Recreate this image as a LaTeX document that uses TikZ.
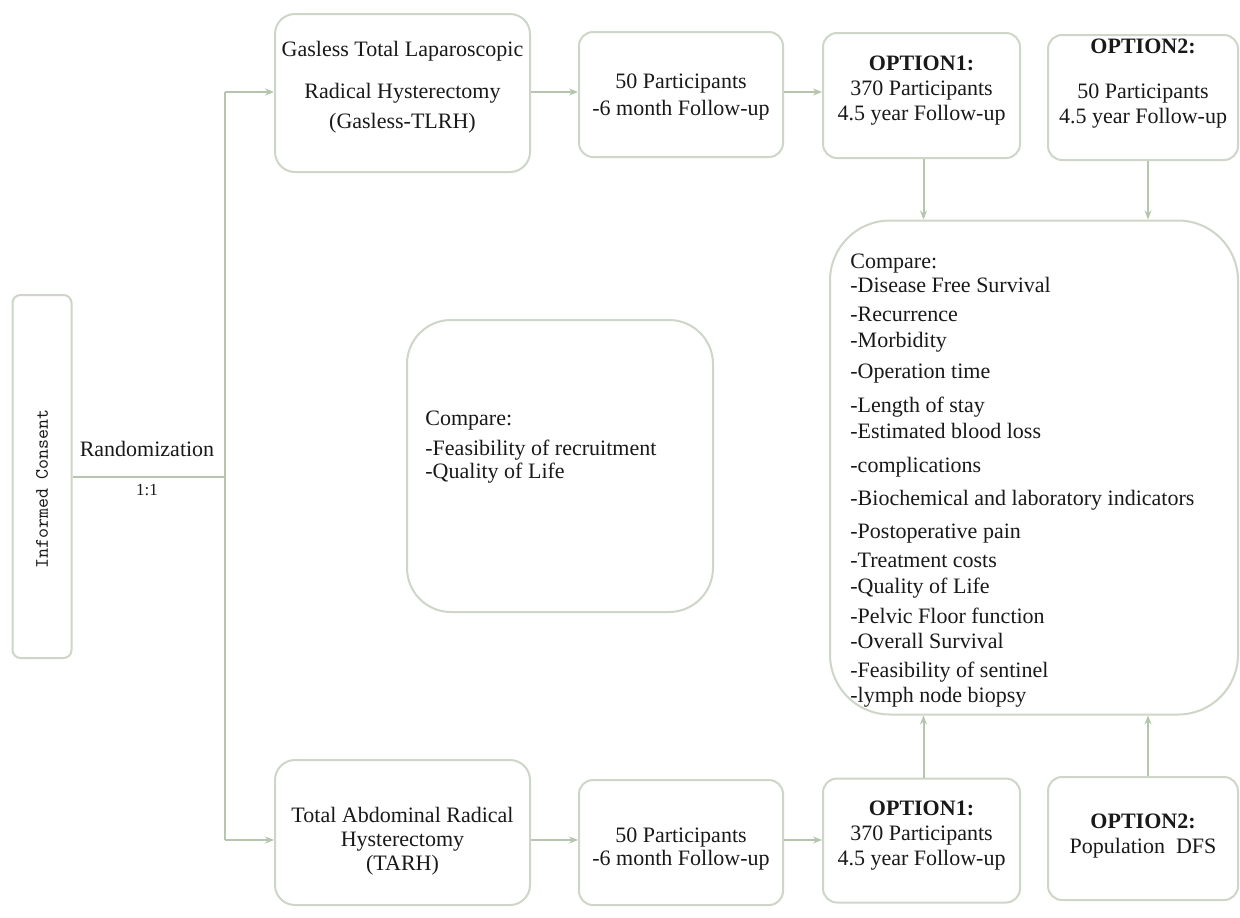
\documentclass[tikz,border=0pt]{standalone}
\usepackage{fontspec}
\setmainfont{Liberation Serif}
\usetikzlibrary{arrows.meta}
\definecolor{lncol}{RGB}{182,198,174}
\definecolor{bxcol}{RGB}{206,214,200}
\definecolor{txcol}{RGB}{25,25,25}
\begin{document}
\begin{tikzpicture}[x=0.5pt,y=-0.5pt,
  box/.style={draw=bxcol, line width=1pt, rounded corners=7pt, fill=white, inner sep=0pt},
  lbl/.style={text=txcol, font=\fontsize{11}{12.5}\selectfont, align=center, inner sep=0pt},
  cmp/.style={text=txcol, font=\fontsize{11}{12}\selectfont, align=left, inner sep=0pt, anchor=north west},
  conn/.style={draw=lncol, line width=1pt},
  arr/.style={conn, -{Stealth[length=4.5pt,width=3.5pt]}}]
\useasboundingbox (0,0) rectangle (1240,917);
\fill[white] (0,0) rectangle (1240,917);

% boxes
\node[box, rounded corners=4pt, minimum width=29.5pt, minimum height=181.5pt] (ic) at (42,476.5) {};
\node[box, rounded corners=10pt, minimum width=127.5pt, minimum height=79pt] (g1) at (402.5,93) {};
\node[box, minimum width=102pt, minimum height=62.5pt] (g2) at (681,94.5) {};
\node[box, minimum width=98.5pt, minimum height=62.5pt] (g3) at (921.5,95.5) {};
\node[box, minimum width=95pt, minimum height=62.5pt] (g4) at (1143,97.5) {};
\node[box, rounded corners=30pt, minimum width=204pt, minimum height=247pt] (big) at (1034,467.5) {};
\node[box, rounded corners=22pt, minimum width=153pt, minimum height=146pt] (mid) at (560,466) {};
\node[box, rounded corners=10pt, minimum width=127.5pt, minimum height=72.5pt] (t1) at (402.5,832.5) {};
\node[box, minimum width=102pt, minimum height=62.5pt] (t2) at (681,842.5) {};
\node[box, minimum width=98.5pt, minimum height=62pt] (t3) at (921.5,840.5) {};
\node[box, minimum width=95pt, minimum height=61.5pt] (t4) at (1143,838.5) {};

% texts
\node[text=txcol, inner sep=0pt, rotate=90, font=\ttfamily\fontsize{9.5}{10}\selectfont] (ictxt) at (42,489) {Informed Consent};
\node[lbl] (rnd) at (147,449) {Randomization};
\node[lbl, font=\fontsize{8.5}{10}\selectfont] (ratio) at (147,490) {1:1};

\node[lbl] (g1txt) at (402.5,87) {Gasless Total Laparoscopic\\[8.5pt]Radical Hysterectomy\\[2.5pt](Gasless-TLRH)};
\node[lbl, font=\fontsize{11}{13.5}\selectfont] (g2txt) at (681,97.5) {50 Participants\\-6 month Follow-up};
\node[lbl] (g3txt) at (921.5,91) {\textbf{OPTION1:}\\370 Participants\\4.5 year Follow-up};
\node[lbl] (g4txt) at (1143,84) {\textbf{OPTION2:}\\[10pt]50 Participants\\4.5 year Follow-up};

\node[lbl, font=\fontsize{11}{12}\selectfont] (t1txt) at (402.5,841) {Total Abdominal Radical\\Hysterectomy\\(TARH)};
\node[lbl, font=\fontsize{11}{11.5}\selectfont] (t2txt) at (681,849) {50 Participants\\-6 month Follow-up};
\node[lbl] (t3txt) at (921.5,836) {\textbf{OPTION1:}\\370 Participants\\4.5 year Follow-up};
\node[lbl] (t4txt) at (1143,836) {\textbf{OPTION2:}\\Population\ \ DFS};

\node[cmp] (midtxt) at (425,411) {Compare:\\[3pt]-Feasibility of recruitment\\[-0.5pt]-Quality of Life};

\node[cmp] (bigtxt) at (850,254) {Compare:\\
-Disease Free Survival\\[2.5pt]
-Recurrence\\[1pt]
-Morbidity\\[3.5pt]
-Operation time\\[5pt]
-Length of stay\\[1pt]
-Estimated blood loss\\[5pt]
-complications\\[4.5pt]
-Biochemical and laboratory indicators\\[4.5pt]
-Postoperative pain\\[2.5pt]
-Treatment costs\\[1pt]
-Quality of Life\\[3pt]
-Pelvic Floor function\\[0.5pt]
-Overall Survival\\[2.5pt]
-Feasibility of sentinel\\[0.5pt]
-lymph node biopsy};

% connectors
\coordinate (split) at (225,476.5);
\coordinate (ctop) at (225,92);
\coordinate (cbot) at (225,840);
\draw[conn] (ic.east) -- (split);
\draw[conn] (ctop) -- (cbot);
\draw[arr] (ctop) -- (g1.west |- ctop);
\draw[arr] (cbot) -- (t1.west |- cbot);
\draw[arr] (g1.east |- ctop) -- (g2.west |- ctop);
\draw[arr] (g2.east |- ctop) -- (g3.west |- ctop);
\draw[arr] (t1.east |- cbot) -- (t2.west |- cbot);
\draw[arr] (t2.east |- cbot) -- (t3.west |- cbot);
\draw[arr] ([xshift=1pt]g3.south) -- ([xshift=1pt]g3.south |- big.north);
\draw[arr] ([xshift=2.5pt]g4.south) -- ([xshift=2.5pt]g4.south |- big.north);
\draw[arr] ([xshift=1pt]t3.north) -- ([xshift=1pt]t3.north |- big.south);
\draw[arr] ([xshift=2.5pt]t4.north) -- ([xshift=2.5pt]t4.north |- big.south);
\end{tikzpicture}
\end{document}
